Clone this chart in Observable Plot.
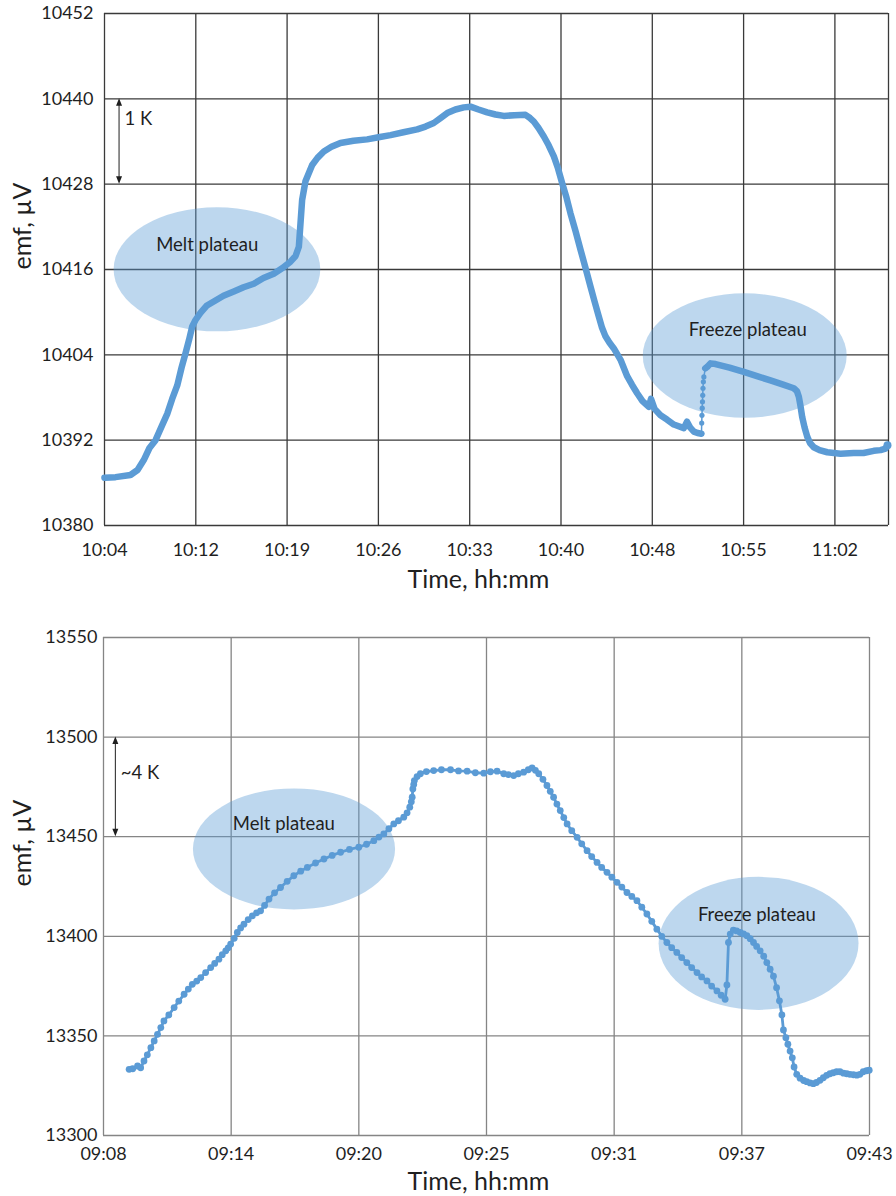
<!DOCTYPE html>
<html>
<head>
<meta charset="utf-8">
<script src="https://cdn.jsdelivr.net/npm/d3@7"></script>
<script src="https://cdn.jsdelivr.net/npm/@observablehq/plot@0.6"></script>
<style>
  html, body { margin: 0; padding: 0; background: #ffffff; }
  #charts svg { display: block; }
</style>
</head>
<body>
<div id="charts"></div>
<script>
// ---------- Run 1: emf (µV) vs time, minutes after 10:00 ----------
const run1Rise = [
  [4.33,10386.7],[5.20,10386.8],[6.38,10387.1],[6.94,10387.8],[7.43,10389.2],[7.88,10390.9],
  [8.36,10392.0],[8.83,10393.9],[9.28,10395.7],[9.67,10397.8],[10.07,10399.7],[10.41,10402.2],
  [10.72,10404.2],[11.00,10406.1],[11.25,10408.0],[11.51,10408.9],[11.90,10409.9],[12.38,10410.9],
  [12.95,10411.5],[13.72,10412.3],[14.53,10412.9],[15.30,10413.5],[16.11,10414.0],[16.87,10414.8],
  [17.68,10415.4],[18.37,10416.2],[19.00,10417.1],[19.40,10417.9],[19.66,10419.2],[19.79,10422.5],
  [19.92,10425.8],[20.18,10428.4],[20.71,10430.7],[21.13,10431.7],[21.63,10432.6],[22.23,10433.25],
  [22.94,10433.8],[23.97,10434.1],[25.05,10434.3],[25.94,10434.6],[26.89,10434.9],[27.91,10435.3],
  [28.99,10435.7],[29.65,10436.1],[30.30,10436.6],[30.83,10437.3],[31.36,10438.0],[32.01,10438.5],
  [32.67,10438.8],[33.20,10438.9],[33.83,10438.5],[34.51,10438.1],[35.17,10437.8],[35.82,10437.6],
  [36.67,10437.7],[37.53,10437.75],[37.89,10437.3],[38.19,10436.8],[38.56,10435.9],[38.98,10434.7],
  [39.35,10433.5],[39.77,10431.9],[40.10,10430.2],[40.43,10428.1],[40.77,10426.1],[41.08,10423.9],
  [41.48,10421.4],[41.87,10418.8],[42.27,10416.2],[42.66,10413.6],[42.98,10411.5],[43.31,10409.4],
  [43.57,10407.8],[43.84,10406.6],[44.16,10405.7],[44.50,10404.9],[45.03,10403.3],[45.55,10401.0],
  [45.93,10399.8],[46.34,10398.6],[46.76,10397.5],[47.26,10396.7],[47.43,10397.8],[47.71,10396.4],
  [48.18,10395.5],[48.69,10394.9],[49.23,10394.2],[50.02,10393.7],[50.27,10394.6],[50.51,10393.8],
  [50.81,10393.2],[51.10,10393.0],[51.41,10392.9]
];
// recalescence: individual readings on the fast rise
const run1Recalescence = [
  [51.43,10394.4],[51.45,10395.5],[51.47,10396.5],[51.49,10397.4],[51.51,10398.3],
  [51.53,10399.3],[51.56,10400.2],[51.60,10400.9]
];
const run1Freeze = [
  [51.71,10402.1],[51.86,10402.3],[52.12,10402.8],[52.52,10402.7],[53.62,10402.2],[54.75,10401.6],
  [55.79,10401.0],[56.85,10400.4],[57.80,10399.85],[58.69,10399.3],[58.94,10398.9],[59.09,10398.1],
  [59.22,10396.8],[59.35,10395.3],[59.54,10393.8],[59.75,10392.5],[59.97,10391.6],[60.27,10391.0],
  [60.72,10390.6],[61.33,10390.3],[62.38,10390.1],[63.42,10390.2],[64.19,10390.2],[65.00,10390.5],
  [65.53,10390.6],[65.92,10390.8],[66.08,10391.3]
];
const run1YTicks = [10380, 10392, 10404, 10416, 10428, 10440, 10452];
const run1XTickLabels = ["10:04","10:12","10:19","10:26","10:33","10:40","10:48","10:55","11:02"];
const run1AxisStart = 4.333;   // 10:04:20
const run1MajorUnit = 7.2;     // minutes between grid lines
const run1AxisEnd = 66.16;
const run1Regions = [
  {label: "Melt plateau",   t: 13.24, v: 10415.95, dt: 8.15, dv: 8.72, labelT: 12.43, labelV: 10419.47},
  {label: "Freeze plateau", t: 54.86, v: 10403.83, dt: 8.04, dv: 8.75, labelT: 55.06, labelV: 10407.5}
];
const run1Span = {t: 5.52, from: 10440, to: 10428, label: "1 K", labelT: 5.91, labelV: 10437.2};

// ---------- Run 2: emf (µV) vs time, minutes after 09:00 ----------
const run2Trace = [
  [9.24,13333.2],[9.40,13333.5],[9.62,13334.9],[9.76,13334.0],[9.91,13337.4],[10.06,13340.5],
  [10.22,13344.1],[10.37,13347.5],[10.52,13350.8],[10.67,13354.2],[10.81,13357.5],[11.03,13360.5],
  [11.27,13364.2],[11.48,13367.5],[11.72,13370.9],[11.91,13373.5],[12.09,13375.9],[12.29,13377.5],
  [12.47,13379.3],[12.69,13381.8],[12.92,13384.3],[13.10,13386.4],[13.29,13388.5],[13.44,13390.8],
  [13.60,13392.7],[13.71,13394.2],[13.82,13396.1],[13.98,13399.0],[14.12,13401.9],[14.27,13404.2],
  [14.42,13406.1],[14.61,13408.4],[14.80,13410.3],[14.99,13411.8],[15.17,13412.8],[15.35,13415.5],
  [15.55,13418.7],[15.80,13421.8],[16.07,13424.5],[16.37,13427.6],[16.67,13430.4],[16.98,13432.7],
  [17.28,13434.6],[17.65,13436.8],[18.03,13438.8],[18.40,13440.6],[18.78,13442.2],[19.18,13443.6],
  [19.60,13444.7],[19.95,13446.2],[20.28,13448.0],[20.51,13449.8],[20.73,13451.4],[20.96,13454.0],
  [21.18,13456.4],[21.39,13458.0],[21.63,13459.8],[21.78,13462.0],[21.90,13464.8],[21.97,13467.5],
  [22.01,13469.8],[22.04,13474.0],[22.08,13476.2],[22.11,13478.2],[22.23,13480.2],[22.38,13481.6],
  [22.65,13482.7],[22.98,13483.2],[23.33,13483.6],[23.74,13483.6],[24.10,13483.0],[24.49,13482.9],
  [24.86,13482.1],[25.24,13481.9],[25.54,13482.6],[25.84,13482.9],[26.14,13481.6],[26.35,13481.2],
  [26.59,13480.7],[26.80,13481.6],[27.04,13482.4],[27.25,13483.6],[27.42,13484.6],[27.57,13483.3],
  [27.72,13481.6],[27.91,13478.8],[28.09,13475.7],[28.24,13472.8],[28.39,13469.8],[28.54,13466.4],
  [28.69,13463.1],[28.85,13459.6],[29.00,13456.4],[29.21,13453.0],[29.45,13449.7],[29.66,13446.4],
  [29.90,13443.0],[30.11,13440.0],[30.35,13437.1],[30.56,13434.6],[30.80,13432.1],[31.02,13429.7],
  [31.25,13427.1],[31.47,13424.7],[31.70,13422.0],[31.92,13420.0],[32.15,13417.9],[32.37,13414.6],
  [32.60,13411.2],[32.82,13407.5],[33.05,13403.6],[33.27,13400.0],[33.50,13396.9],[33.72,13394.3],
  [33.95,13391.9],[34.17,13389.3],[34.40,13386.8],[34.62,13384.3],[34.86,13381.8],[35.07,13379.6],
  [35.31,13377.6],[35.52,13375.0],[35.76,13372.6],[35.95,13370.4],[36.13,13368.4],[36.21,13375.6],
  [36.28,13396.9],[36.36,13401.1],[36.50,13403.1],[36.65,13402.7],[36.81,13401.9],[36.96,13401.2],
  [37.11,13400.3],[37.26,13398.8],[37.41,13396.9],[37.55,13394.9],[37.71,13392.7],[37.87,13390.0],
  [38.01,13386.8],[38.16,13383.5],[38.31,13380.0],[38.45,13374.2],[38.58,13367.6],[38.69,13360.5],
  [38.76,13353.0],[38.87,13349.1],[38.96,13345.8],[39.06,13342.4],[39.16,13339.0],[39.24,13334.4],
  [39.36,13330.7],[39.51,13328.8],[39.67,13327.6],[39.81,13327.0],[39.96,13326.4],[40.11,13326.0],
  [40.25,13326.6],[40.41,13327.7],[40.56,13329.0],[40.71,13330.2],[40.86,13331.0],[41.01,13331.5],
  [41.16,13332.0],[41.31,13332.0],[41.47,13331.3],[41.62,13331.0],[41.76,13330.7],[41.92,13330.5],
  [42.07,13330.3],[42.21,13330.7],[42.36,13332.0],[42.51,13332.5],[42.63,13332.8]
];
const run2YTicks = [13300, 13350, 13400, 13450, 13500, 13550];
const run2XTickLabels = ["09:08","09:14","09:20","09:25","09:31","09:37","09:43"];
const run2AxisStart = 8.083;   // 09:08:05
const run2MajorUnit = 5.76;    // minutes between grid lines
const run2Regions = [
  {label: "Melt plateau",   t: 16.70, v: 13443.6, dt: 4.56, dv: 30.4, labelT: 16.22, labelV: 13456.4},
  {label: "Freeze plateau", t: 37.66, v: 13396.2, dt: 4.51, dv: 33.4, labelT: 37.56, labelV: 13410.8}
];
const run2Span = {t: 8.64, from: 13500, to: 13450, label: "~4 K", labelT: 8.86, labelV: 13481.9};

// ---------- drawing helpers ----------
const BLUE = "#5B9BD5";
const INK = "#1f1f1f";
const FONT = "Lato, 'Open Sans', sans-serif";
const NOTE_SIZE = 18.5;
const TITLE_SIZE = 25;

// shaded ellipses marking the plateaus, sized in data units
function regionMark(regions) {
  return (index, scales) => {
    const g = d3.create("svg:g");
    for (const r of regions) {
      const cx = scales.x(r.t), cy = scales.y(r.v);
      g.append("ellipse")
        .attr("cx", cx).attr("cy", cy)
        .attr("rx", Math.abs(scales.x(r.t + r.dt) - cx))
        .attr("ry", Math.abs(scales.y(r.v + r.dv) - cy))
        .attr("fill", BLUE).attr("fill-opacity", 0.4);
    }
    return g.node();
  };
}

// double-headed vertical arrow spanning a temperature step
function spanMark(span) {
  return (index, scales) => {
    const x = scales.x(span.t);
    const a = scales.y(span.from), b = scales.y(span.to);
    const top = Math.min(a, b), bot = Math.max(a, b);
    const g = d3.create("svg:g");
    g.append("line").attr("x1", x).attr("x2", x).attr("y1", top + 4).attr("y2", bot - 4)
      .attr("stroke", INK).attr("stroke-width", 1);
    g.append("path")
      .attr("d", `M${x},${top}l-3,7.5h6z M${x},${bot}l-3,-7.5h6z`)
      .attr("fill", INK);
    return g.node();
  };
}

function annotationMarks(regions, span) {
  return [
    Plot.text(regions, {x: "labelT", y: "labelV", text: "label", fontSize: NOTE_SIZE, fill: INK}),
    Plot.text([span], {x: "labelT", y: "labelV", text: "label", textAnchor: "start", fontSize: NOTE_SIZE, fill: INK}),
    spanMark(span)
  ];
}

const holder = document.getElementById("charts");

// ---------- Run 1 ----------
const run1XTicks = run1XTickLabels.map((_, i) => run1AxisStart + i * run1MajorUnit);
const run1Link = [run1Rise[run1Rise.length - 1], ...run1Recalescence, run1Freeze[0]];

const chart1 = Plot.plot({
  width: 896, height: 600,
  marginTop: 13, marginBottom: 75, marginLeft: 104, marginRight: 8,
  style: {fontFamily: FONT, fontSize: "18px", color: INK, background: "#ffffff", overflow: "visible"},
  x: {domain: [run1AxisStart, run1AxisEnd], ticks: run1XTicks,
      tickFormat: d => run1XTickLabels[run1XTicks.indexOf(d)], tickSize: 0, tickPadding: 18, label: null},
  y: {domain: [10380, 10452], ticks: run1YTicks, tickFormat: d => String(d), tickSize: 0, tickPadding: 11, label: null},
  marks: [
    Plot.ruleY(run1YTicks, {stroke: "#3a3a3a", strokeWidth: 1.3}),
    Plot.ruleX([...run1XTicks, run1AxisEnd], {stroke: "#3a3a3a", strokeWidth: 1.3}),
    regionMark(run1Regions),
    Plot.line(run1Rise, {x: d => d[0], y: d => d[1], stroke: BLUE, strokeWidth: 6.5, strokeLinecap: "round", strokeLinejoin: "round"}),
    Plot.line(run1Freeze, {x: d => d[0], y: d => d[1], stroke: BLUE, strokeWidth: 6.5, strokeLinecap: "round", strokeLinejoin: "round"}),
    Plot.line(run1Link, {x: d => d[0], y: d => d[1], stroke: BLUE, strokeWidth: 1.5}),
    Plot.dot(run1Link, {x: d => d[0], y: d => d[1], r: 2.6, fill: BLUE}),
    Plot.dot([run1Freeze[run1Freeze.length - 1]], {x: d => d[0], y: d => d[1], r: 4, fill: BLUE}),
    ...annotationMarks(run1Regions, run1Span),
    Plot.text(["Time, hh:mm"], {frameAnchor: "bottom", dy: 54, dx: -18, fontSize: TITLE_SIZE, fill: INK, lineAnchor: "middle"}),
    Plot.text(["emf, µV"], {frameAnchor: "left", dx: -82, rotate: -90, fontSize: TITLE_SIZE, fill: INK, lineAnchor: "middle"})
  ]
});
holder.appendChild(chart1);

// ---------- Run 2 ----------
const run2XTicks = run2XTickLabels.map((_, i) => run2AxisStart + i * run2MajorUnit);

const chart2 = Plot.plot({
  width: 896, height: 596,
  marginTop: 37, marginBottom: 61, marginLeft: 103, marginRight: 27,
  style: {fontFamily: FONT, fontSize: "18px", color: INK, background: "#ffffff", overflow: "visible"},
  x: {domain: [run2AxisStart, run2XTicks[run2XTicks.length - 1]], ticks: run2XTicks,
      tickFormat: d => run2XTickLabels[run2XTicks.indexOf(d)], tickSize: 0, tickPadding: 12, label: null},
  y: {domain: [13300, 13550], ticks: run2YTicks, tickFormat: d => String(d), tickSize: 0, tickPadding: 6, label: null},
  marks: [
    Plot.ruleY(run2YTicks, {stroke: "#858585", strokeWidth: 1.3}),
    Plot.ruleX(run2XTicks, {stroke: "#858585", strokeWidth: 1.3}),
    regionMark(run2Regions),
    Plot.line(run2Trace, {x: d => d[0], y: d => d[1], stroke: BLUE, strokeWidth: 2.8, strokeLinejoin: "round"}),
    Plot.dot(run2Trace, {x: d => d[0], y: d => d[1], r: 3.4, fill: BLUE}),
    ...annotationMarks(run2Regions, run2Span),
    Plot.text(["Time, hh:mm"], {frameAnchor: "bottom", dy: 46, dx: -8, fontSize: TITLE_SIZE, fill: INK, lineAnchor: "middle"}),
    Plot.text(["emf, µV"], {frameAnchor: "left", dx: -81, rotate: -90, fontSize: TITLE_SIZE, fill: INK, lineAnchor: "middle"})
  ]
});
holder.appendChild(chart2);
</script>
</body>
</html>
